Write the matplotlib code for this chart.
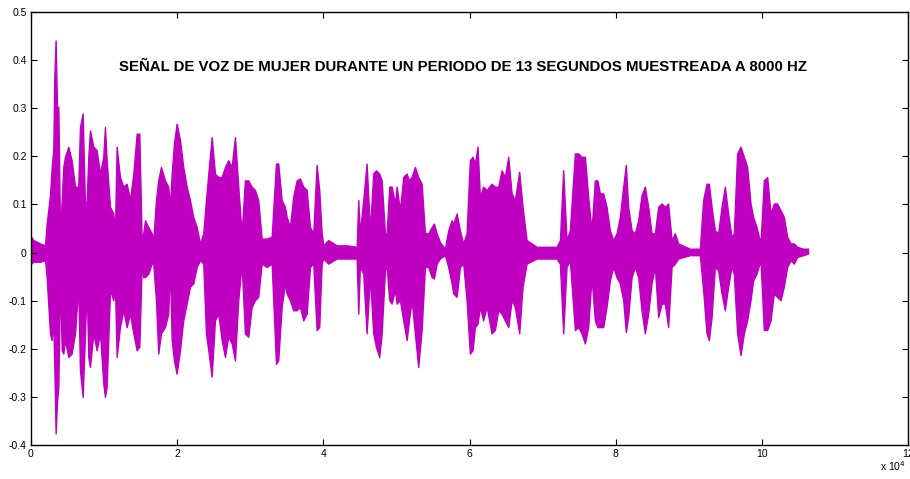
import matplotlib.pyplot as plt
from matplotlib.ticker import FuncFormatter

# Envolvente de la señal de voz (muestras en miles)
muestras_k = [
    0.0, 0.32, 1.23, 1.92, 2.14, 2.6, 2.83, 3.05, 3.19, 3.37, 3.56, 3.74, 3.97,
    4.2, 4.42, 4.65, 5.11, 5.56, 6.02, 6.47, 6.7, 7.07, 7.39, 7.62, 7.84, 8.07,
    8.53, 8.98, 9.44, 9.89, 10.12, 10.35, 10.81, 11.26, 11.49, 11.72, 12.17,
    12.63, 13.09, 13.54, 14.0, 14.46, 14.82, 15.14, 15.36, 15.6, 16.05, 16.51,
    16.73, 17.1, 17.41, 17.78, 18.33, 18.78, 19.02, 19.25, 19.56, 19.93, 20.38,
    20.83, 21.3, 21.75, 22.2, 22.67, 23.12, 23.57, 23.94, 24.26, 24.72, 25.17,
    25.62, 26.09, 26.54, 26.99, 27.46, 27.91, 28.36, 28.82, 29.27, 29.73, 30.19,
    30.64, 31.09, 31.56, 32.24, 32.93, 33.52, 33.83, 34.3, 34.75, 34.98, 35.43,
    35.88, 36.35, 36.8, 37.25, 37.72, 38.17, 38.62, 39.08, 39.44, 39.77, 39.99,
    40.67, 41.82, 43.19, 44.56, 44.78, 45.0, 45.46, 45.92, 46.38, 46.83, 47.2,
    47.65, 47.98, 48.43, 48.66, 49.02, 49.34, 49.8, 50.03, 50.48, 50.93, 51.4,
    51.71, 52.08, 52.53, 52.98, 53.45, 53.9, 54.35, 54.82, 55.13, 55.5, 55.95,
    56.63, 57.09, 57.55, 57.77, 58.24, 58.69, 59.14, 59.6, 60.05, 60.42, 60.74,
    61.1, 61.42, 61.87, 62.34, 63.02, 63.47, 63.93, 64.39, 64.84, 65.3, 65.76,
    66.21, 66.8, 67.26, 67.81, 69.18, 70.55, 71.92, 72.37, 72.82, 73.28, 73.73,
    74.42, 74.87, 75.33, 75.79, 76.24, 76.7, 77.15, 77.5, 77.84, 78.29, 78.75,
    79.21, 79.66, 80.12, 80.57, 81.03, 81.39, 81.71, 82.18, 82.63, 83.08, 83.54,
    83.99, 84.45, 84.91, 85.36, 85.82, 86.28, 86.73, 87.18, 87.65, 88.1, 88.55,
    90.15, 91.52, 91.97, 92.43, 92.75, 93.12, 93.57, 94.02, 94.49, 94.94, 95.39,
    95.85, 96.17, 96.62, 97.09, 97.54, 97.99, 98.45, 98.81, 99.27, 99.82,
    100.27, 100.73, 101.19, 101.64, 102.09, 102.56, 103.01, 103.46, 103.93,
    104.38, 104.83, 105.65, 106.33,
]
amp_sup = [
    0.033, 0.026, 0.019, 0.015, 0.060, 0.119, 0.178, 0.213, 0.365, 0.441, 0.303,
    0.303, 0.040, 0.109, 0.178, 0.199, 0.220, 0.192, 0.137, 0.137, 0.261, 0.289,
    0.095, 0.109, 0.199, 0.254, 0.220, 0.213, 0.164, 0.199, 0.261, 0.192, 0.095,
    0.081, 0.046, 0.220, 0.157, 0.137, 0.143, 0.109, 0.164, 0.247, 0.247, 0.026,
    0.040, 0.067, 0.053, 0.040, 0.026, 0.109, 0.150, 0.178, 0.150, 0.137, 0.095,
    0.164, 0.227, 0.268, 0.234, 0.178, 0.137, 0.109, 0.074, 0.053, 0.019, 0.040,
    0.109, 0.164, 0.240, 0.164, 0.157, 0.157, 0.178, 0.192, 0.178, 0.240, 0.137,
    0.040, 0.150, 0.150, 0.137, 0.130, 0.109, 0.029, 0.029, 0.033, 0.185, 0.185,
    0.109, 0.095, 0.074, 0.053, 0.116, 0.150, 0.154, 0.137, 0.130, 0.053, 0.040,
    0.182, 0.130, 0.040, 0.015, 0.026, 0.015, 0.015, 0.012, 0.109, 0.040, 0.109,
    0.185, 0.046, 0.164, 0.171, 0.164, 0.150, 0.040, 0.040, 0.137, 0.137, 0.102,
    0.137, 0.088, 0.157, 0.164, 0.150, 0.157, 0.178, 0.157, 0.143, 0.040, 0.040,
    0.053, 0.060, 0.040, 0.022, 0.008, 0.046, 0.067, 0.060, 0.081, 0.046, 0.019,
    0.040, 0.192, 0.199, 0.185, 0.220, 0.116, 0.137, 0.130, 0.143, 0.137, 0.137,
    0.171, 0.157, 0.199, 0.123, 0.109, 0.168, 0.095, 0.026, 0.012, 0.012, 0.012,
    0.026, 0.171, 0.026, 0.046, 0.206, 0.206, 0.199, 0.199, 0.116, 0.046, 0.150,
    0.150, 0.123, 0.123, 0.095, 0.046, 0.026, 0.040, 0.074, 0.137, 0.182, 0.095,
    0.046, 0.040, 0.067, 0.119, 0.137, 0.095, 0.040, 0.040, 0.095, 0.102, 0.095,
    0.102, 0.026, 0.040, 0.019, 0.008, 0.008, 0.109, 0.143, 0.143, 0.095, 0.046,
    0.040, 0.095, 0.137, 0.081, 0.033, 0.040, 0.206, 0.220, 0.199, 0.178, 0.102,
    0.074, 0.053, 0.019, 0.150, 0.157, 0.081, 0.102, 0.102, 0.088, 0.074, 0.033,
    0.019, 0.019, 0.012, 0.008, 0.008,
]
amp_inf = [
    -0.023, -0.019, -0.019, -0.016, -0.051, -0.168, -0.182, -0.141, -0.238,
    -0.376, -0.310, -0.279, -0.051, -0.203, -0.210, -0.182, -0.217, -0.210,
    -0.168, -0.071, -0.245, -0.300, -0.168, -0.071, -0.217, -0.238, -0.168,
    -0.203, -0.168, -0.272, -0.300, -0.279, -0.078, -0.099, -0.071, -0.217,
    -0.155, -0.120, -0.155, -0.127, -0.168, -0.203, -0.196, -0.030, -0.051,
    -0.051, -0.044, -0.023, -0.023, -0.099, -0.210, -0.168, -0.155, -0.127,
    -0.030, -0.182, -0.224, -0.252, -0.203, -0.141, -0.106, -0.071, -0.064,
    -0.030, -0.016, -0.023, -0.168, -0.203, -0.258, -0.141, -0.127, -0.182,
    -0.217, -0.175, -0.189, -0.224, -0.099, -0.023, -0.168, -0.175, -0.113,
    -0.099, -0.092, -0.023, -0.030, -0.023, -0.231, -0.224, -0.113, -0.064,
    -0.085, -0.099, -0.120, -0.120, -0.113, -0.141, -0.127, -0.030, -0.023,
    -0.161, -0.155, -0.023, -0.0125, -0.023, -0.0125, -0.0125, -0.0125, -0.127,
    -0.030, -0.044, -0.168, -0.051, -0.168, -0.196, -0.217, -0.168, -0.037,
    -0.030, -0.099, -0.106, -0.078, -0.106, -0.099, -0.141, -0.182, -0.141,
    -0.099, -0.168, -0.238, -0.161, -0.030, -0.030, -0.051, -0.054, -0.023,
    -0.0125, -0.0055, -0.030, -0.064, -0.085, -0.092, -0.030, -0.023, -0.099,
    -0.210, -0.203, -0.155, -0.148, -0.113, -0.141, -0.113, -0.168, -0.161,
    -0.120, -0.127, -0.141, -0.155, -0.099, -0.113, -0.168, -0.071, -0.023,
    -0.0125, -0.0125, -0.0125, -0.023, -0.168, -0.030, -0.016, -0.161, -0.155,
    -0.168, -0.189, -0.155, -0.051, -0.141, -0.155, -0.155, -0.155, -0.113,
    -0.058, -0.030, -0.051, -0.064, -0.099, -0.165, -0.134, -0.051, -0.030,
    -0.051, -0.120, -0.168, -0.127, -0.064, -0.030, -0.134, -0.106, -0.106,
    -0.155, -0.030, -0.023, -0.0125, -0.0055, -0.0055, -0.078, -0.168, -0.182,
    -0.134, -0.030, -0.037, -0.085, -0.120, -0.071, -0.030, -0.044, -0.168,
    -0.213, -0.168, -0.141, -0.099, -0.058, -0.044, -0.016, -0.161, -0.161,
    -0.141, -0.085, -0.092, -0.099, -0.071, -0.030, -0.016, -0.023, -0.009,
    -0.0055, -0.002,
]

x_ticks = [0, 2, 4, 6, 8, 10, 12]
y_ticks = [-0.4, -0.3, -0.2, -0.1, 0, 0.1, 0.2, 0.3, 0.4, 0.5]
titulo = 'SEÑAL DE VOZ DE MUJER DURANTE UN PERIODO DE 13 SEGUNDOS MUESTREADA A 8000 HZ'

plt.rcParams['font.family'] = ['Liberation Sans', 'DejaVu Sans']

fig = plt.figure(figsize=(9.1, 4.79), dpi=100)
ax = fig.add_axes([31 / 910, 1 - 445 / 479, 877 / 910, 433 / 479])

# Señal dibujada como área entre las envolventes superior e inferior
muestras = [m * 1000 for m in muestras_k]
ax.fill_between(muestras, amp_inf, amp_sup, color='#c000c0', lw=1.0, edgecolor='#c000c0')

ax.set_xlim(0, 120000)
ax.set_ylim(-0.4, 0.5)
ax.set_xticks([t * 1e4 for t in x_ticks])
ax.xaxis.set_major_formatter(FuncFormatter(lambda v, p: '%g' % (v / 1e4)))
ax.set_yticks(y_ticks)
ax.yaxis.set_major_formatter(FuncFormatter(lambda v, p: '%g' % round(v, 1)))
ax.tick_params(direction='in', top=True, right=True, length=4, width=0.8,
               labelsize=7.5, pad=3)
for s in ax.spines.values():
    s.set_linewidth(1.0)

ax.text(0.4926, 0.872, titulo, transform=ax.transAxes, ha='center', va='center',
        fontsize=10.8, fontweight='bold')
fig.text(893 / 910, 1 - 466 / 479, r'x 10$^{4}$', ha='center', va='center', fontsize=7.5)

fig.savefig('out.png', dpi=100)
